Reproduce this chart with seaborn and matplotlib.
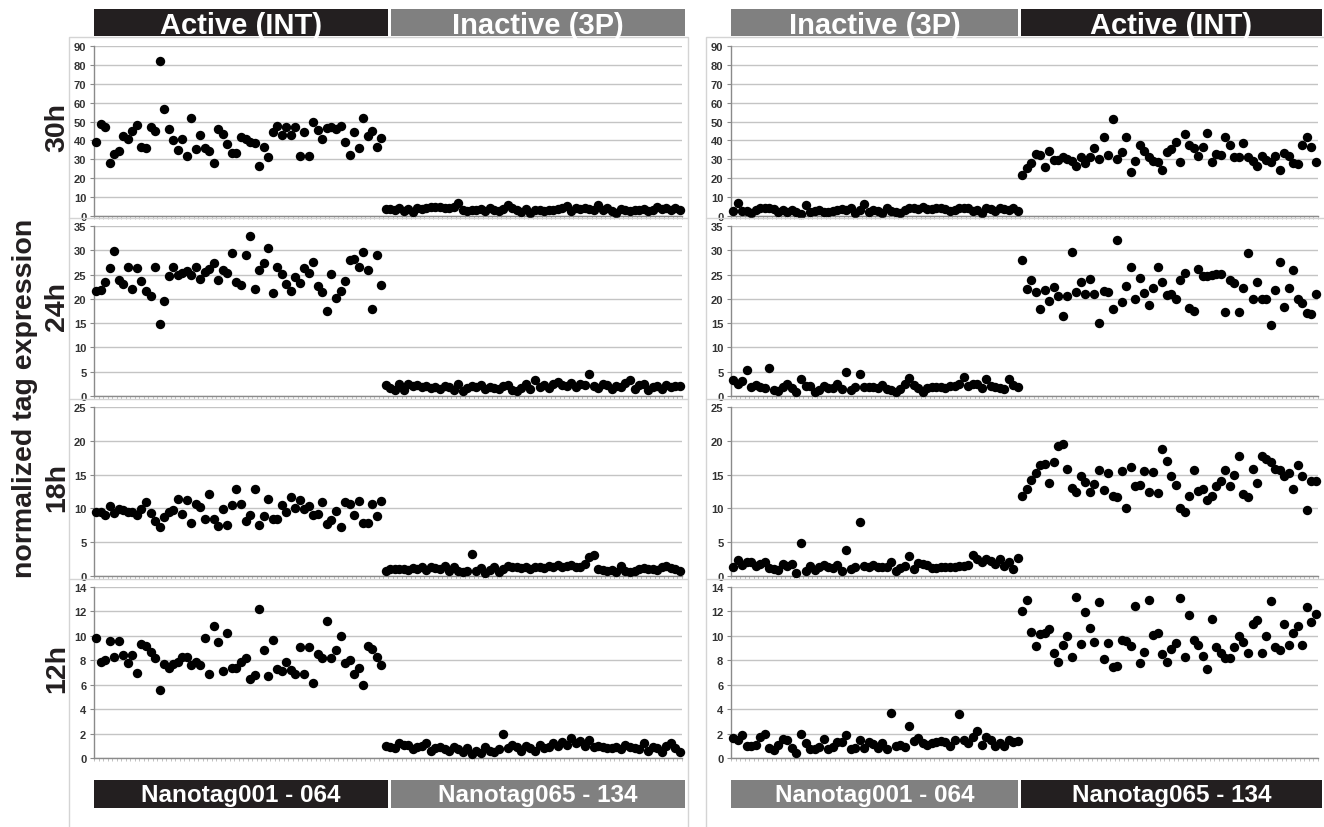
import numpy as np
import pandas as pd
import matplotlib
matplotlib.use("Agg")
import matplotlib.pyplot as plt
from matplotlib.patches import Rectangle
from matplotlib.lines import Line2D
import seaborn as sns

# ---- data ----
hours = ["30h", "24h", "18h", "12h"]
y_max = [90, 35, 25, 14]
y_step = [10, 5, 5, 2]

# left panel: Nanotag001-064 active (INT), Nanotag065-134 inactive (3P)
left_30h_active = [39, 48.5, 47, 28, 33, 34.5, 42.5, 41, 45, 48,
                   36.5, 36, 47, 45, 82, 56.5, 46, 40, 35, 41,
                   32, 52, 35.5, 43, 36, 34.5, 28, 46, 43.5, 38,
                   33.5, 33.5, 42, 41, 39, 38.5, 26.5, 36.5, 31, 44.5,
                   47.5, 43, 47, 43, 47, 32, 44.5, 32, 50, 45.5,
                   41, 46.5, 47, 46, 47.5, 39, 32.5, 44.5, 36, 52,
                   42.5, 45, 36.5, 41.5]
left_30h_inactive = [3.8, 3.5, 3.2, 4.2, 2.5, 3.8, 2.2, 4.5, 3.5, 4.0,
                     4.8, 5.0, 4.6, 4.2, 4.0, 4.8, 7.0, 3.0, 2.6, 3.0,
                     3.2, 3.5, 2.8, 4.0, 3.0, 2.5, 3.8, 6.0, 4.5, 3.2,
                     2.0, 3.5, 1.5, 3.0, 3.2, 2.5, 3.0, 3.2, 3.5, 4.0,
                     5.5, 2.5, 4.5, 3.8, 4.5, 3.5, 3.0, 6.0, 3.2, 4.5,
                     2.5, 1.8, 3.5, 3.0, 2.5, 3.2, 3.0, 3.5, 2.8, 3.0,
                     4.8, 3.5, 4.2, 3.0, 4.5, 3.0]
left_24h_active = [21.7, 21.8, 23.4, 26.3, 29.9, 23.8, 23.1, 26.5, 22.1, 26.3,
                   23.7, 21.7, 20.6, 26.5, 14.9, 19.5, 24.8, 26.5, 25.0, 25.4,
                   25.7, 25.0, 26.6, 24.0, 25.5, 26.2, 27.3, 23.8, 25.9, 25.4,
                   29.5, 23.5, 22.8, 29.0, 32.9, 22.0, 26.0, 27.4, 30.5, 21.3,
                   26.6, 25.1, 23.0, 21.6, 24.6, 23.3, 26.3, 25.3, 27.5, 22.6,
                   21.5, 17.4, 25.2, 20.1, 21.7, 23.7, 28.0, 28.3, 26.5, 29.7,
                   25.9, 17.9, 29.0, 22.9]
left_24h_inactive = [2.3, 1.6, 1.3, 2.5, 1.2, 2.5, 2.1, 2.2, 1.8, 2.0,
                     1.6, 1.9, 1.5, 2.0, 1.8, 1.3, 2.4, 1.0, 1.6, 2.0,
                     1.8, 2.3, 1.5, 1.9, 1.6, 1.5, 2.0, 2.3, 1.2, 1.0,
                     1.6, 2.5, 1.4, 3.2, 1.8, 2.2, 1.6, 2.4, 2.8, 2.2,
                     2.0, 2.6, 1.8, 2.5, 2.2, 4.5, 2.0, 1.6, 2.5, 2.3,
                     1.5, 2.0, 1.8, 2.6, 3.2, 1.5, 2.2, 2.5, 1.2, 1.8,
                     2.0, 1.5, 2.3, 1.8, 2.0, 2.1]
left_18h_active = [9.5, 9.5, 9.0, 10.4, 9.3, 9.9, 9.8, 9.5, 9.5, 9.0,
                   9.9, 10.9, 9.3, 8.1, 7.3, 8.7, 9.5, 9.7, 11.4, 9.2,
                   11.3, 7.8, 10.6, 10.2, 8.5, 12.2, 8.5, 7.4, 9.9, 7.6,
                   10.5, 12.8, 10.6, 8.1, 9.0, 12.9, 7.6, 8.9, 11.4, 8.5,
                   8.5, 10.5, 9.4, 11.7, 10.0, 11.2, 9.9, 10.3, 9.0, 9.2,
                   10.9, 7.7, 8.3, 9.6, 7.3, 11.0, 10.6, 9.0, 11.1, 7.9,
                   7.8, 10.6, 8.9, 11.1]
left_18h_inactive = [0.7, 1.0, 1.1, 1.0, 1.1, 0.9, 1.2, 1.0, 1.3, 0.9,
                     1.4, 1.2, 1.0, 1.5, 0.8, 1.3, 0.7, 0.6, 0.8, 3.3,
                     0.8, 1.2, 0.5, 0.9, 1.3, 0.6, 1.0, 1.5, 1.3, 1.4,
                     1.2, 1.3, 1.1, 1.4, 1.3, 1.2, 1.5, 1.4, 1.6, 1.3,
                     1.5, 1.7, 1.4, 1.3, 1.8, 2.8, 3.1, 1.1, 0.9, 0.8,
                     0.9, 0.6, 1.5, 0.7, 0.6, 0.8, 1.1, 1.2, 1.0, 1.1,
                     0.9, 1.3, 1.5, 1.2, 1.0, 0.7]
left_12h_active = [9.8, 7.9, 8.0, 9.6, 8.3, 9.6, 8.4, 7.8, 8.45, 6.95,
                   9.3, 9.2, 8.7, 8.2, 5.6, 7.7, 7.35, 7.7, 7.9, 8.3,
                   8.3, 7.6, 7.9, 7.6, 9.85, 6.9, 10.8, 9.5, 7.1, 10.2,
                   7.4, 7.4, 7.9, 8.2, 6.5, 6.8, 12.2, 8.85, 6.75, 9.7,
                   7.3, 7.1, 7.9, 7.2, 6.9, 9.1, 6.9, 9.1, 6.1, 8.5,
                   8.2, 11.2, 8.2, 8.85, 10.0, 7.8, 8.0, 6.9, 7.4, 6.0,
                   9.15, 8.9, 8.3, 7.6]
left_12h_inactive = [1.0, 0.9, 0.8, 1.2, 1.1, 1.1, 0.7, 0.9, 1.0, 1.2,
                     0.6, 0.8, 0.9, 0.7, 0.6, 0.9, 0.7, 0.5, 0.8, 0.3,
                     0.6, 0.4, 0.9, 0.6, 0.5, 0.7, 2.0, 0.8, 1.1, 0.9,
                     0.6, 1.0, 0.8, 0.6, 1.1, 0.8, 0.9, 1.2, 1.0, 1.3,
                     1.1, 1.6, 1.2, 1.4, 1.0, 1.5, 0.9, 1.0, 0.9, 0.8,
                     0.8, 0.9, 0.7, 1.1, 0.9, 0.8, 0.7, 1.2, 0.6, 0.9,
                     0.8, 0.5, 1.0, 1.2, 0.8, 0.5]

# right panel: Nanotag001-064 inactive (3P), Nanotag065-134 active (INT)
right_30h_inactive = [2.5, 7.0, 2.5, 2.5, 1.5, 3.0, 4.0, 4.5, 4.0, 3.5,
                      2.0, 3.0, 2.0, 3.0, 2.0, 1.0, 6.0, 2.0, 2.5, 3.0,
                      2.0, 2.0, 2.5, 3.0, 3.5, 3.0, 4.0, 1.5, 3.0, 6.5,
                      2.0, 3.0, 2.5, 1.5, 4.0, 2.5, 2.0, 1.5, 3.0, 4.0,
                      4.0, 3.5, 5.0, 3.5, 3.5, 4.5, 4.0, 3.5, 2.5, 3.0,
                      4.0, 4.5, 4.0, 2.5, 3.0, 1.5, 4.5, 3.5, 2.5, 4.0,
                      3.5, 3.0, 4.0, 2.5]
right_30h_active = [21.5, 25.5, 28, 33, 32.5, 26, 34.5, 29.5, 29.5, 31,
                    30, 29, 26.5, 31, 28, 31, 36, 30, 42, 32.5,
                    51.5, 30, 34, 42, 23.5, 29, 37.5, 34.5, 31.5, 29,
                    28.5, 24.5, 34, 35.5, 39, 28.5, 43.5, 37.5, 36, 32,
                    36.5, 44, 28.5, 33, 32.5, 42, 37.5, 31.5, 31, 38.5,
                    31.5, 29, 26.5, 32, 29.5, 28.5, 32, 24.5, 33.5, 32,
                    28, 27.5, 37.5, 42, 36.5, 28.5]
right_24h_inactive = [3.3, 2.4, 3.0, 5.4, 1.9, 2.2, 1.9, 1.7, 5.8, 1.3,
                      1.1, 1.9, 2.4, 1.7, 0.9, 3.6, 2.1, 2.1, 0.9, 1.3,
                      2.1, 1.7, 1.7, 2.4, 1.4, 5.0, 1.3, 1.9, 4.5, 1.9,
                      1.9, 1.9, 1.7, 2.3, 1.5, 1.3, 0.9, 1.4, 2.4, 3.7,
                      2.2, 1.6, 0.9, 1.7, 1.8, 1.8, 1.8, 1.6, 2.0, 2.0,
                      2.4, 3.9, 2.0, 2.5, 2.5, 1.7, 3.4, 2.1, 1.8, 1.7,
                      1.4, 3.4, 2.2, 1.9]
right_24h_active = [28, 22.1, 23.9, 21.5, 17.9, 21.9, 19.6, 22.5, 20.5, 16.4,
                    20.5, 29.7, 21.4, 23.5, 21.1, 24.0, 21.1, 15.0, 21.6, 21.4,
                    17.9, 32.2, 19.4, 22.6, 26.5, 20.0, 24.2, 21.2, 18.7, 22.2,
                    26.5, 23.5, 20.8, 21.0, 19.9, 23.9, 25.3, 18.2, 17.5, 26.1,
                    24.8, 24.8, 25.0, 25.1, 25.1, 17.2, 23.8, 23.2, 17.2, 22.2,
                    29.4, 19.9, 23.5, 19.9, 19.9, 14.7, 21.9, 27.5, 18.3, 22.2,
                    26.0, 20.0, 19.1, 17.0, 16.8, 21.0]
right_18h_inactive = [1.4, 2.3, 1.6, 2.1, 2.0, 1.5, 1.8, 2.1, 1.2, 1.1,
                      0.9, 1.8, 1.5, 1.8, 0.5, 4.9, 0.8, 1.5, 0.9, 1.3,
                      1.7, 1.3, 1.2, 1.7, 0.8, 3.8, 1.0, 1.3, 8.0, 1.5,
                      1.3, 1.6, 1.3, 1.3, 1.4, 2.0, 0.8, 1.2, 1.5, 2.9,
                      1.1, 1.9, 1.8, 1.7, 1.2, 1.2, 1.3, 1.3, 1.3, 1.4,
                      1.5, 1.5, 1.7, 3.1, 2.5, 2.1, 2.5, 2.2, 1.8, 2.5,
                      1.5, 2.0, 1.1, 2.7]
right_18h_active = [11.85, 12.8, 14.2, 15.3, 16.4, 16.5, 13.8, 16.8, 19.3, 19.5,
                    15.9, 13.0, 12.5, 14.8, 13.9, 12.4, 13.65, 15.75, 12.7, 15.2,
                    11.9, 11.7, 15.5, 10.0, 16.1, 13.25, 13.5, 15.6, 12.4, 15.4,
                    12.3, 18.75, 17.0, 14.8, 13.4, 10.0, 9.5, 11.9, 15.75, 12.6,
                    12.9, 11.25, 11.9, 13.3, 14.1, 15.75, 13.3, 15.0, 17.7, 12.1,
                    11.7, 15.8, 13.8, 17.7, 17.3, 16.9, 15.9, 15.7, 14.8, 15.3,
                    12.9, 16.4, 14.8, 9.7, 14.0, 14.0]
right_12h_inactive = [1.6, 1.45, 1.9, 1.0, 1.0, 1.1, 1.7, 1.95, 0.85, 0.65,
                      1.05, 1.55, 1.45, 0.85, 0.45, 2.0, 1.25, 0.7, 0.7, 0.9,
                      1.55, 0.7, 0.9, 1.3, 1.3, 1.9, 0.75, 0.8, 1.45, 0.85,
                      1.3, 1.15, 0.85, 1.2, 0.75, 3.65, 1.0, 1.1, 0.9, 2.6,
                      1.4, 1.65, 1.2, 1.05, 1.2, 1.3, 1.4, 1.3, 1.0, 1.5,
                      3.6, 1.45, 1.2, 1.7, 2.2, 1.1, 1.75, 1.5, 0.95, 1.25,
                      1.0, 1.45, 1.35, 1.4]
right_12h_active = [12.05, 12.9, 10.3, 9.2, 10.15, 10.2, 10.6, 8.6, 7.9, 9.25,
                    9.95, 8.25, 13.2, 9.35, 11.95, 10.65, 9.5, 12.8, 8.1, 9.4,
                    7.45, 7.55, 9.7, 9.6, 9.2, 12.45, 7.75, 8.7, 12.9, 10.1,
                    10.25, 8.5, 7.85, 8.9, 9.45, 13.1, 8.25, 11.7, 9.7, 9.25,
                    8.35, 7.25, 11.35, 9.05, 8.6, 8.2, 8.15, 9.1, 10.0, 9.5,
                    8.6, 11.0, 11.3, 8.6, 9.95, 12.85, 9.1, 8.85, 11.0, 9.25,
                    10.25, 10.8, 9.25, 12.35, 11.15, 11.75]

left_rows = [left_30h_active + left_30h_inactive,
             left_24h_active + left_24h_inactive,
             left_18h_active + left_18h_inactive,
             left_12h_active + left_12h_inactive]
right_rows = [right_30h_inactive + right_30h_active,
              right_24h_inactive + right_24h_active,
              right_18h_inactive + right_18h_active,
              right_12h_inactive + right_12h_active]

top_labels = [["Active (INT)", "Inactive (3P)"], ["Inactive (3P)", "Active (INT)"]]
bottom_labels = [["Nanotag001 - 064", "Nanotag065 - 134"], ["Nanotag001 - 064", "Nanotag065 - 134"]]

# ---- layout (pixels) ----
W, H = 1324, 828
BLACK = "#231f20"
GREY = "#808080"

sns.set_theme(style="white")
plt.rcParams['font.family'] = ['Liberation Sans', 'DejaVu Sans']

fig = plt.figure(figsize=(W / 100, H / 100), dpi=100)


def fx(px):
    return px / W


def fy(py):
    return 1 - py / H


row_px = [(47, 217), (227, 397), (408, 577), (588, 759)]
panel_px = [(94, 682), (731, 1318)]

# panel frames and row separators
for (fx0, fx1) in [(69, 688), (706, 1330)]:
    fig.add_artist(Rectangle((fx(fx0), fy(832)), fx(fx1 - fx0), (832 - 38) / H,
                             transform=fig.transFigure, fill=False,
                             ec="#d4d4d4", lw=1))
    for sy in [219, 400, 580]:
        fig.add_artist(Line2D([fx(fx0), fx(fx1)], [fy(sy), fy(sy)],
                              transform=fig.transFigure, color="#d4d4d4", lw=1))

for p, rows in enumerate([left_rows, right_rows]):
    x0, x1 = panel_px[p]
    for r, vals in enumerate(rows):
        ytop, ybot = row_px[r]
        ax = fig.add_axes([fx(x0), fy(ybot), fx(x1 - x0), (ybot - ytop) / H])
        df = pd.DataFrame({"tag": np.arange(len(vals)), "expr": vals})
        sns.scatterplot(data=df, x="tag", y="expr", ax=ax, color="black",
                        s=46, linewidth=0, clip_on=False, zorder=3)
        ax.set_xlim(-0.5, len(vals) - 0.5)
        ax.set_ylim(0, y_max[r])
        ax.set_yticks(np.arange(0, y_max[r] + 0.01, y_step[r]))
        ax.set_xticks(np.arange(-0.5, len(vals), 1))
        ax.set_xlabel("")
        ax.set_ylabel("")
        ax.yaxis.grid(True, color="#c4c4c4", lw=1)
        ax.xaxis.grid(False)
        ax.set_axisbelow(True)
        for s in ["top", "right"]:
            ax.spines[s].set_visible(False)
        for s in ["left", "bottom"]:
            ax.spines[s].set_color("#8a8a8a")
            ax.spines[s].set_linewidth(1)
        ax.tick_params(axis="x", bottom=True, length=2.5, width=0.5,
                       color="#a8a8a8", labelbottom=False)
        ax.tick_params(axis="y", left=True, length=3, width=0.8, color="#8a8a8a",
                       labelsize=8, pad=2.5, labelcolor="#333333")
        for lab in ax.get_yticklabels():
            lab.set_fontweight("bold")
        ax.set_facecolor("white")

        if p == 0:
            fig.text(fx(57), fy((ytop + ybot) / 2 - 5), hours[r], rotation=90,
                     ha="center", va="center", fontsize=20.5, fontweight="bold",
                     color="#231f20")

# header and footer bars
bar_x = [[(94, 388), (391, 685)], [(731, 1018), (1021, 1322)]]
bar_col = [[BLACK, GREY], [GREY, BLACK]]
for p in range(2):
    for k in range(2):
        bx0, bx1 = bar_x[p][k]
        for (by0, by1, labels, fs, dy) in [(10, 37, top_labels, 21, 2.5),
                                           (781, 809, bottom_labels, 17.5, 0.5)]:
            fig.add_artist(Rectangle((fx(bx0), fy(by1)), fx(bx1 - bx0), (by1 - by0) / H,
                                     transform=fig.transFigure, color=bar_col[p][k], lw=0))
            fig.text(fx((bx0 + bx1) / 2), fy((by0 + by1) / 2 + dy), labels[p][k],
                     ha="center", va="center", color="white", fontsize=fs,
                     fontweight="bold")

fig.text(fx(25), fy(398), "normalized tag expression", rotation=90, ha="center",
         va="center", fontsize=20.5, fontweight="bold", color="#231f20")

fig.savefig("out.png", dpi=100, facecolor="white")
